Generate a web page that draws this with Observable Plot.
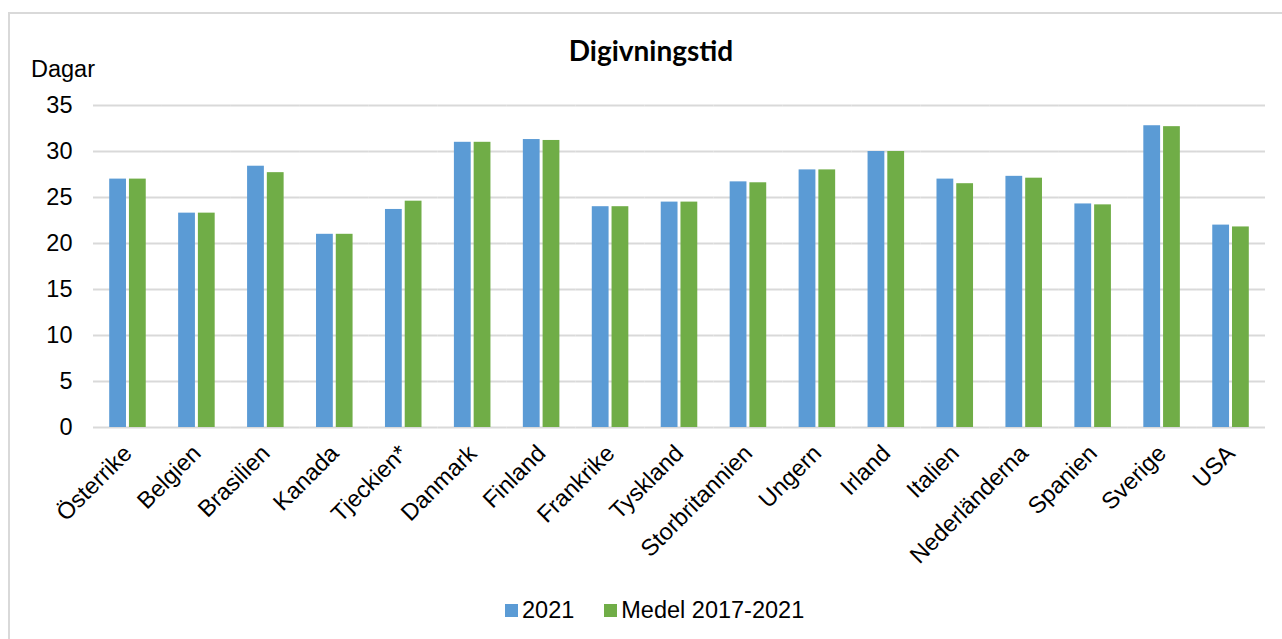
<!DOCTYPE html>
<html>
<head>
<meta charset="utf-8">
<script src="https://cdn.jsdelivr.net/npm/d3@7"></script>
<script src="https://cdn.jsdelivr.net/npm/@observablehq/plot@0.6"></script>
<style>
  html, body { margin: 0; padding: 0; background: #fff; }
  body { width: 1282px; height: 639px; position: relative; overflow: hidden; font-family: "Liberation Sans", Arial, sans-serif; }
  #frame { position: absolute; left: 8px; top: 12px; width: 1300px; height: 700px; border-left: 2px solid #d9d9d9; border-top: 2px solid #d9d9d9; box-sizing: border-box; }
  #title { position: absolute; top: 33px; left: 0; width: 1302px; text-align: center; font-family: Lato, "Open Sans", sans-serif; font-weight: bold; font-size: 28px; color: #000; }
  #ylabel { position: absolute; left: 31px; top: 56px; font-size: 23.5px; color: #000; }
  #chart { position: absolute; left: 0; top: 0; }
  #legend { position: absolute; top: 597px; left: 505px; font-size: 23.5px; color: #000; display: flex; align-items: center; white-space: nowrap; }
  .sw { display: inline-block; width: 13px; height: 13px; margin-right: 4px; }
  .item { display: flex; align-items: center; margin-right: 30px; }
</style>
</head>
<body>
<div id="frame"></div>
<div id="title">Digivningstid</div>
<div id="ylabel">Dagar</div>
<div id="chart"></div>
<div id="legend"></div>
<script>
const countries = ["Österrike","Belgien","Brasilien","Kanada","Tjeckien*","Danmark","Finland","Frankrike","Tyskland","Storbritannien","Ungern","Irland","Italien","Nederländerna","Spanien","Sverige","USA"];
const values2021 = [27.0,23.3,28.4,21.0,23.7,31.0,31.3,24.0,24.5,26.7,28.0,30.0,27.0,27.3,24.3,32.8,22.0];
const valuesMedel = [27.0,23.3,27.7,21.0,24.6,31.0,31.2,24.0,24.5,26.6,28.0,30.0,26.5,27.1,24.2,32.7,21.8];
const seriesNames = ["2021","Medel 2017-2021"];
const seriesColors = ["#5B9BD5","#70AD47"];
const yTicks = [0,5,10,15,20,25,30,35];

const data = [];
countries.forEach((c, i) => {
  data.push({country: c, series: seriesNames[0], value: values2021[i]});
  data.push({country: c, series: seriesNames[1], value: valuesMedel[i]});
});

const chart = Plot.plot({
  width: 1282,
  height: 590,
  marginTop: 105,
  marginBottom: 163,
  marginLeft: 93,
  marginRight: 17,
  style: {fontFamily: '"Liberation Sans", Arial, sans-serif', fontSize: "23.5px", color: "#000", background: "transparent"},
  fx: {domain: countries, padding: 0, round: false, label: null},
  x: {domain: seriesNames, paddingInner: 0.15, paddingOuter: 0.82, round: false, axis: null},
  y: {domain: [0, 35], label: null},
  color: {domain: seriesNames, range: seriesColors},
  marks: [
    Plot.gridY(yTicks, {stroke: "#d9d9d9", strokeOpacity: 1, strokeWidth: 2}),
    Plot.barY(data, {fx: "country", x: "series", y: "value", fill: "series", inset: 0}),
    Plot.axisY(yTicks, {tickSize: 0, tickPadding: 21, fontSize: 23.5, label: null}),
    Plot.axisFx({anchor: "bottom", tickSize: 0, tickRotate: -45, tickPadding: 22, fontSize: 23.5, label: null, textAnchor: "end"})
  ]
});
document.getElementById("chart").appendChild(chart);

const legend = document.getElementById("legend");
seriesNames.forEach((s, i) => {
  const item = document.createElement("div");
  item.className = "item";
  const sw = document.createElement("span");
  sw.className = "sw";
  sw.style.background = seriesColors[i];
  item.appendChild(sw);
  item.appendChild(document.createTextNode(s));
  legend.appendChild(item);
});
</script>
</body>
</html>
